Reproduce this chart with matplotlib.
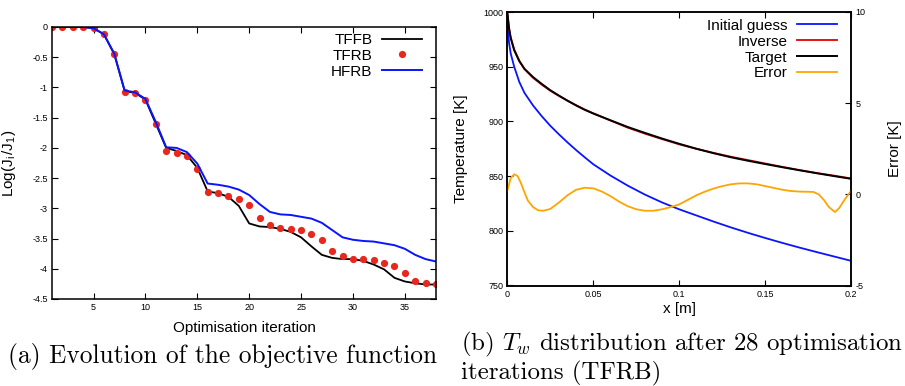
import matplotlib
matplotlib.use("Agg")
import matplotlib.pyplot as plt
from matplotlib.ticker import FuncFormatter, FixedLocator

plt.rcParams['font.family'] = ['Liberation Sans', 'DejaVu Sans']
plt.rcParams['axes.unicode_minus'] = False
plt.rcParams['mathtext.fontset'] = 'custom'
plt.rcParams['mathtext.rm'] = 'Liberation Sans'
plt.rcParams['mathtext.it'] = 'cmmi10'

# ---------------- data: panel (a) ----------------
iterations = list(range(1, 39))
tffb = [0, 0, 0, 0, -0.02, -0.12, -0.45, -1.06, -1.09, -1.20, -1.60, -2.00, -2.05, -2.12,
        -2.33, -2.72, -2.75, -2.81, -2.96, -3.25, -3.30, -3.31, -3.34, -3.39, -3.48, -3.63,
        -3.77, -3.82, -3.84, -3.84, -3.87, -3.93, -4.01, -4.15, -4.21, -4.24, -4.26, -4.26]
tfrb = [0, 0, 0, 0, -0.02, -0.12, -0.45, -1.07, -1.10, -1.21, -1.61, -2.05, -2.08, -2.14,
        -2.35, -2.73, -2.75, -2.79, -2.85, -2.95, -3.16, -3.28, -3.33, -3.34, -3.36, -3.43,
        -3.52, -3.70, -3.79, -3.83, -3.84, -3.86, -3.90, -3.96, -4.07, -4.20, -4.24, -4.26]
hfrb = [0, 0, 0, 0, -0.02, -0.12, -0.44, -1.05, -1.08, -1.19, -1.57, -1.99, -2.00, -2.07,
        -2.26, -2.59, -2.61, -2.64, -2.69, -2.78, -2.93, -3.06, -3.10, -3.11, -3.14, -3.17,
        -3.24, -3.36, -3.48, -3.52, -3.54, -3.55, -3.58, -3.61, -3.67, -3.77, -3.84, -3.88]
a_xticks = [5, 10, 15, 20, 25, 30, 35]
a_yticks = [0, -0.5, -1, -1.5, -2, -2.5, -3, -3.5, -4, -4.5]

# ---------------- data: panel (b) ----------------
x_pos = [0, 0.001, 0.002, 0.004, 0.007, 0.01, 0.015, 0.02, 0.025, 0.03, 0.035, 0.04, 0.045,
         0.05, 0.06, 0.07, 0.08, 0.09, 0.1, 0.11, 0.12, 0.13, 0.14, 0.15, 0.16, 0.17, 0.18,
         0.19, 0.2]
initial_guess = [990, 972, 962, 950, 936, 926, 914.5, 904.8, 896, 888.2, 880.8, 873.8, 867.2,
                 860.8, 850.5, 841.3, 833.1, 825.9, 819.6, 814, 808.4, 803.1, 798.1, 793.4,
                 788.9, 784.6, 780.5, 776.5, 772.5]
target = [1000, 985, 976, 965, 955, 948, 940.5, 934.3, 928.5, 923.6, 918.9, 914.6, 910.6,
          907.2, 901, 894.9, 889.5, 884.3, 879.5, 875, 870.9, 867.2, 864.0, 861.0, 858.1,
          855.3, 852.6, 850.0, 847.5]
inverse = [999.5, 985.5, 976.8, 965.9, 955.4, 947.8, 939.8, 933.6, 928.0, 923.3, 919.0,
           914.8, 910.9, 907.4, 900.8, 894.3, 888.8, 883.8, 879.0, 874.9, 871.2, 867.7,
           864.6, 861.5, 858.4, 855.5, 852.8, 850.4, 847.8]
x_err = [0, 0.002, 0.004, 0.006, 0.008, 0.010, 0.012, 0.015, 0.018, 0.021, 0.025, 0.030,
         0.035, 0.040, 0.045, 0.050, 0.055, 0.060, 0.065, 0.070, 0.075, 0.080, 0.085, 0.090,
         0.095, 0.100, 0.105, 0.110, 0.115, 0.120, 0.125, 0.130, 0.135, 0.140, 0.145, 0.150,
         0.155, 0.160, 0.165, 0.170, 0.175, 0.178, 0.181, 0.184, 0.187, 0.1905, 0.193, 0.196,
         0.2]
error = [0.2, 0.9, 1.1, 1.0, 0.6, 0.1, -0.35, -0.7, -0.88, -0.9, -0.8, -0.45, -0.05, 0.25,
         0.36, 0.33, 0.15, -0.1, -0.4, -0.65, -0.82, -0.9, -0.9, -0.82, -0.7, -0.55, -0.3,
         -0.05, 0.15, 0.32, 0.45, 0.55, 0.6, 0.6, 0.55, 0.45, 0.35, 0.25, 0.18, 0.15, 0.14,
         0.13, 0.0, -0.3, -0.7, -0.97, -0.75, -0.3, 0.2]
b_xticks = [0, 0.05, 0.1, 0.15, 0.2]
b_yticks = [750, 800, 850, 900, 950, 1000]
b_y2ticks = [-5, 0, 5, 10]

W, H = 905, 386
fig = plt.figure(figsize=(W / 100, H / 100), dpi=100)

def fig_rect(x0, y0, x1, y1):
    return [x0 / W, 1 - y1 / H, (x1 - x0) / W, (y1 - y0) / H]

fmt = FuncFormatter(lambda v, p: '%g' % v)
TICKFS = 6.5
LABFS = 11

def style(ax, right=True):
    for s in ax.spines.values():
        s.set_linewidth(1.1)
    ax.tick_params(direction='in', length=4, width=0.8, labelsize=TICKFS,
                   top=True, right=right, pad=3)

# ---- panel (a) ----
ax1 = fig.add_axes(fig_rect(52, 27, 436, 299))
ax1.plot(iterations, tffb, color='black', lw=1.3, label='TFFB')
ax1.plot(iterations, tfrb, 'o', color='#e8281e', ms=5.2, mec='none', label='TFRB')
ax1.plot(iterations, hfrb, color='#0a14ff', lw=1.4, label='HFRB')
ax1.set_xlim(1, 38)
ax1.set_ylim(-4.5, 0)
ax1.xaxis.set_major_locator(FixedLocator(a_xticks))
ax1.yaxis.set_major_locator(FixedLocator(a_yticks))
ax1.xaxis.set_major_formatter(fmt)
ax1.yaxis.set_major_formatter(fmt)
style(ax1)
ax1.set_xlabel('Optimisation iteration', fontsize=LABFS)
ax1.set_ylabel(r'Log(J$_\mathrm{i}$/J$_1$)', fontsize=LABFS)
ax1.xaxis.set_label_coords(0.5, -0.082)
ax1.yaxis.set_label_coords(-0.088, 0.5)
ax1.legend(loc='upper right', bbox_to_anchor=(0.963, 0.978), frameon=False,
           markerfirst=False, fontsize=11, handlelength=2.6, handletextpad=0.65,
           labelspacing=0.12, borderpad=0, borderaxespad=0)

# ---- panel (b) ----
ax2 = fig.add_axes(fig_rect(507.3, 12, 851.3, 285.5))
l1, = ax2.plot(x_pos, initial_guess, color='#0a14ff', lw=1.3, label='Initial guess')
l2, = ax2.plot(x_pos, inverse, color='#e00000', lw=1.3, label='Inverse')
l3, = ax2.plot(x_pos, target, color='black', lw=1.4, label='Target')
ax2.set_xlim(0, 0.2)
ax2.set_ylim(750, 1000)
ax2.xaxis.set_major_locator(FixedLocator(b_xticks))
ax2.yaxis.set_major_locator(FixedLocator(b_yticks))
ax2.xaxis.set_major_formatter(fmt)
ax2.yaxis.set_major_formatter(fmt)
style(ax2, right=False)
ax2.set_xlabel('x [m]', fontsize=LABFS)
ax2.set_ylabel('Temperature [K]', fontsize=LABFS)
ax2.xaxis.set_label_coords(0.5, -0.062)
ax2.yaxis.set_label_coords(-0.113, 0.5)

ax3 = ax2.twinx()
l4, = ax3.plot(x_err, error, color='#ffa500', lw=1.3, label='Error')
ax3.set_ylim(-5, 10)
ax3.yaxis.set_major_locator(FixedLocator(b_y2ticks))
ax3.yaxis.set_major_formatter(fmt)
for s in ax3.spines.values():
    s.set_linewidth(1.1)
ax3.tick_params(direction='in', length=4, width=0.8, labelsize=TICKFS, pad=3)
ax3.set_ylabel('Error [K]', fontsize=LABFS)
ax3.yaxis.set_label_coords(1.106, 0.5)
ax3.legend(handles=[l1, l2, l3, l4], loc='upper right', bbox_to_anchor=(0.958, 0.975),
           frameon=False, markerfirst=False, fontsize=11, handlelength=2.6,
           handletextpad=0.65, labelspacing=0.12, borderpad=0, borderaxespad=0)

# ---- captions ----
fig.text(8 / W, 1 - 356 / H, '(a) Evolution of the objective function', family='cmr10',
         fontsize=18.3, va='center', ha='left')
fig.text(461 / W, 1 - 344 / H, r'(b) $T_w$ distribution after 28 optimisation',
         family='cmr10', fontsize=17.9, va='center', ha='left')
fig.text(461 / W, 1 - 373 / H, 'iterations (TFRB)', family='cmr10',
         fontsize=17.9, va='center', ha='left')

fig.savefig('out.png', dpi=100)
